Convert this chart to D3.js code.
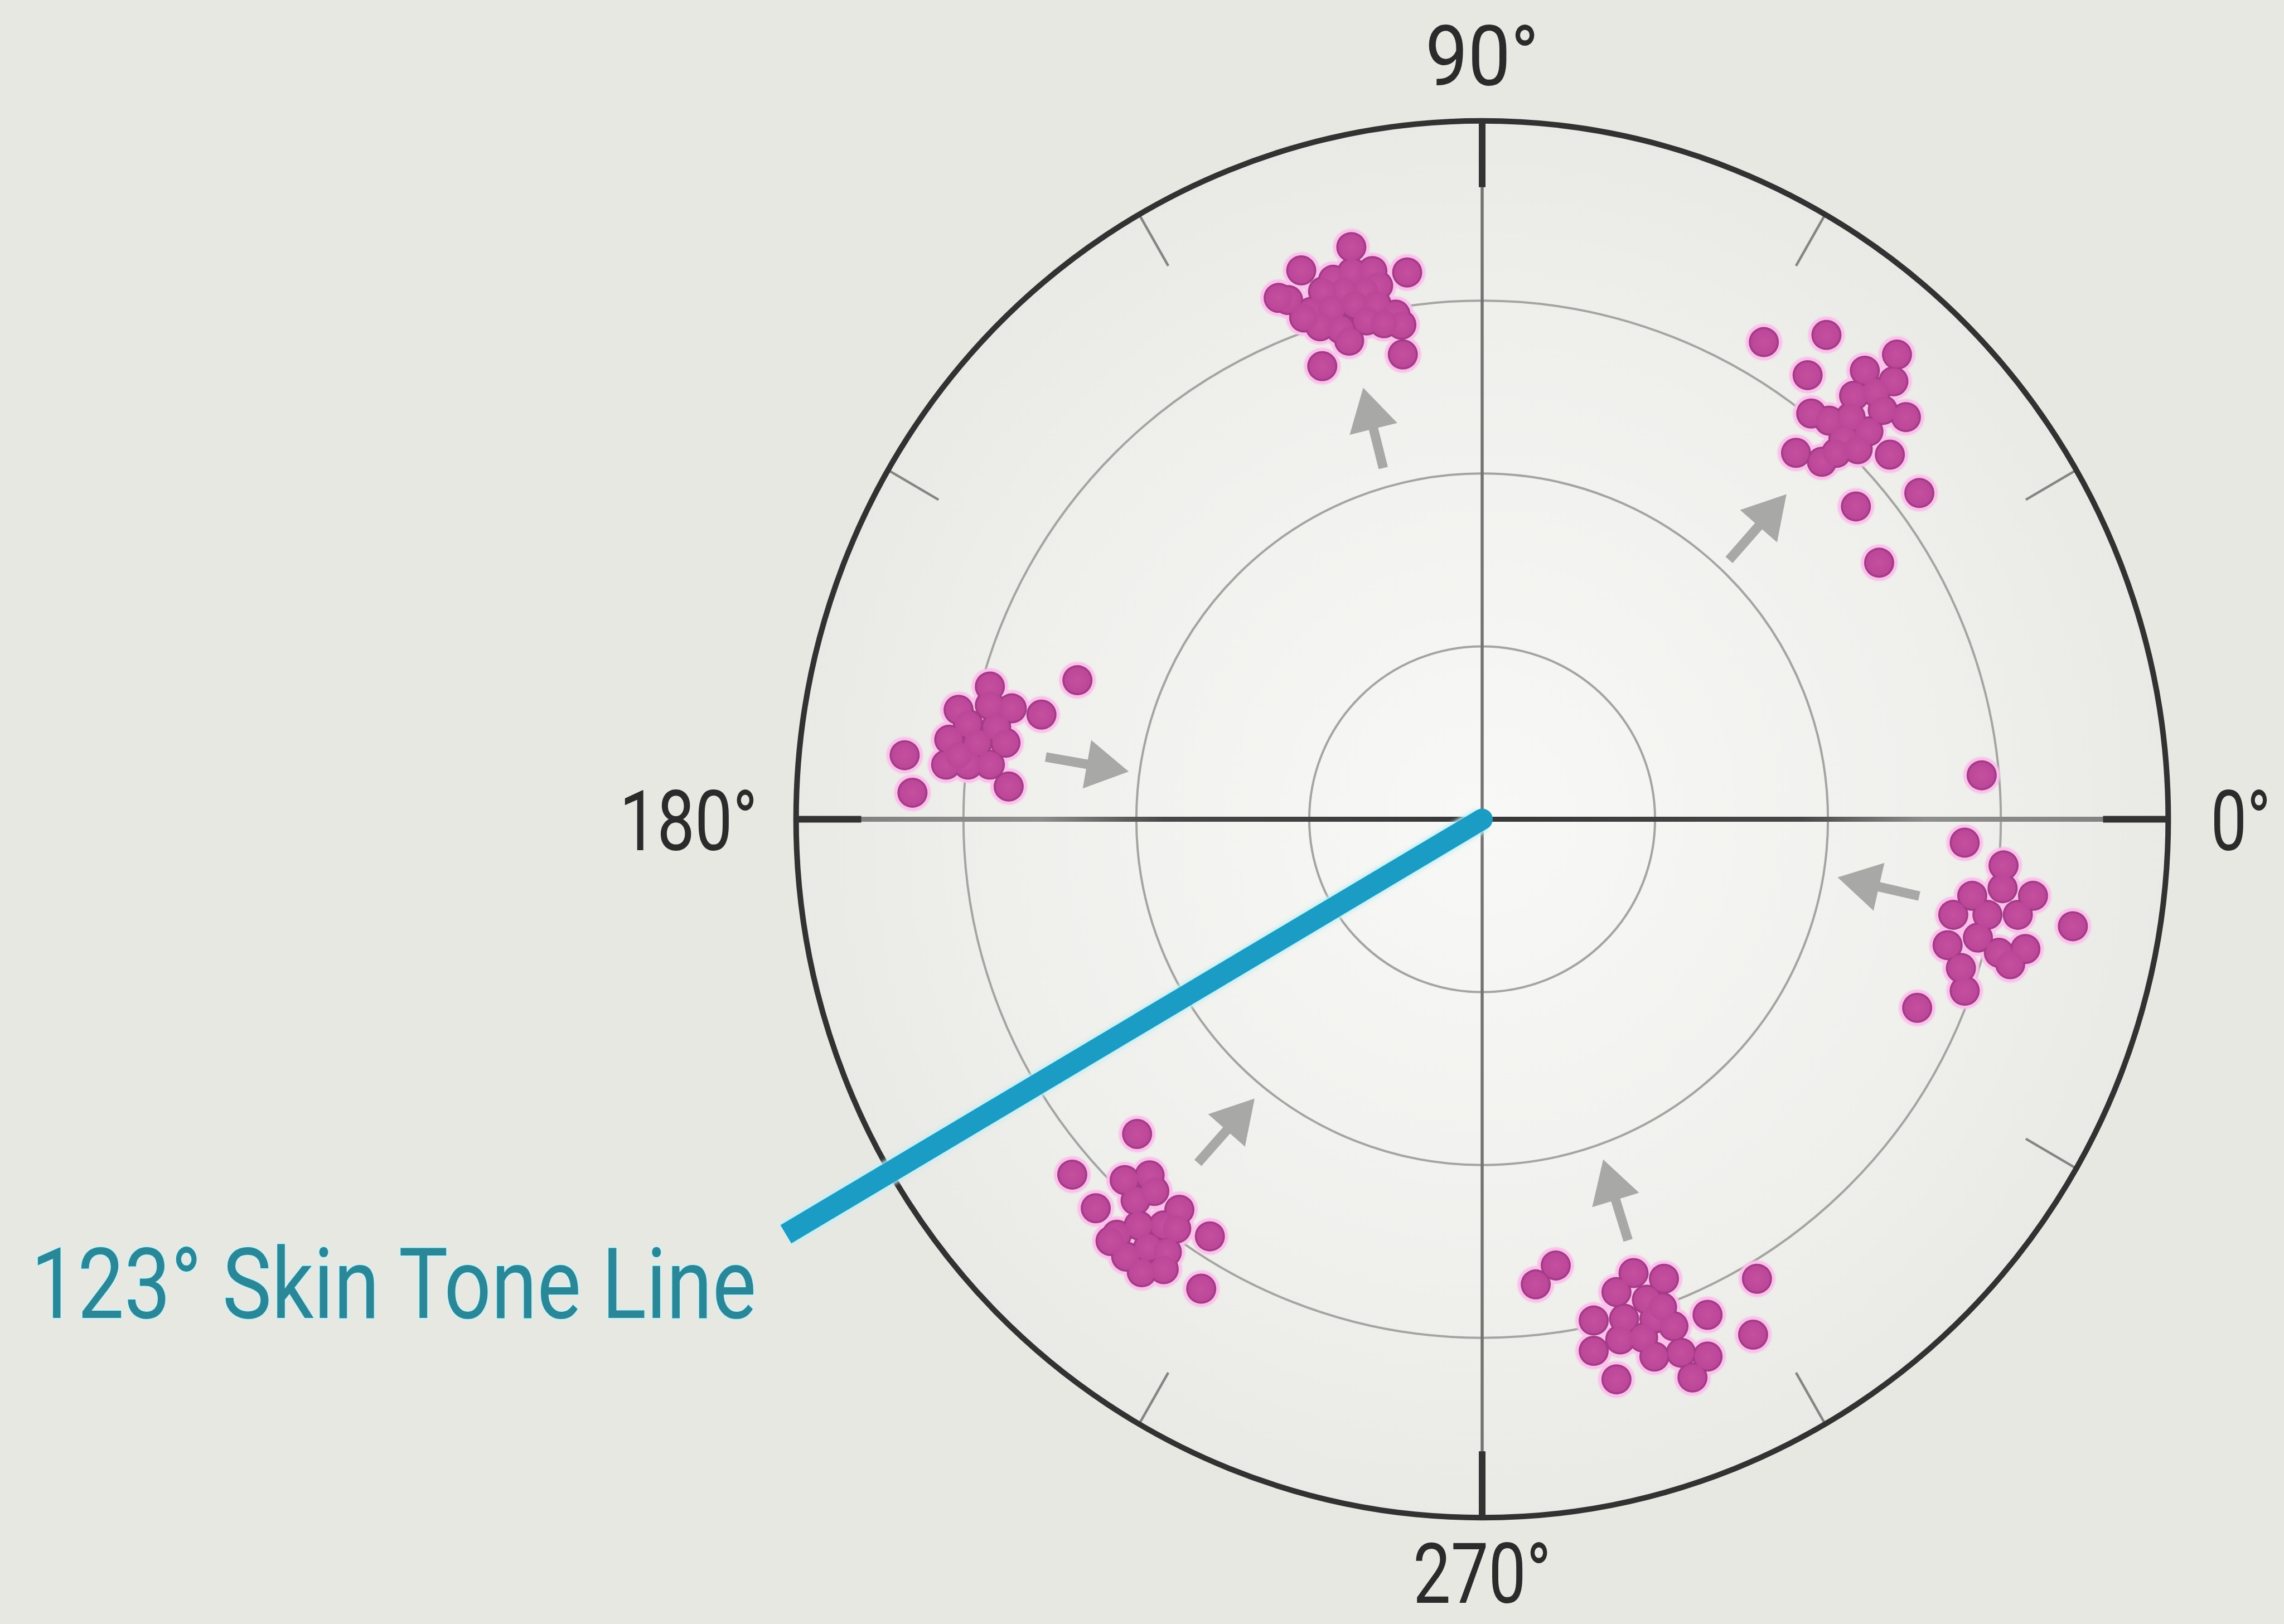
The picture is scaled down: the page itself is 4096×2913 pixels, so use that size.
<!DOCTYPE html>
<html>
<head>
<meta charset="utf-8">
<title>Vectorscope</title>
<script src="https://cdn.jsdelivr.net/npm/d3@7"></script>
<style>
  html, body { margin: 0; padding: 0; background: #e8e8e3; }
  svg { display: block; }
</style>
</head>
<body>
<script>
var W = 4096, H = 2913;
var k = 0.785; // reference -> window

// ---- data ----
var ringLevels = [0.25, 0.5, 0.75];
var majorAngles = [0, 90, 180, 270];
var minorAngles = [30, 60, 120, 150, 210, 240, 300, 330];
var angleLabels = ["0°", "90°", "180°", "270°"];

// chroma samples (u, v), one list per patch
var clusterMagentaTop = [[-0.2154,0.7802],[-0.1882,0.7908],[-0.1587,0.7928],[-0.1504,0.7718],[-0.1692,0.7634],[-0.2008,0.7634],[-0.2301,0.7634],[-0.2805,0.7508],[-0.2469,0.7340],[-0.2175,0.7382],[-0.1839,0.7446],[-0.1525,0.7446],[-0.1252,0.7299],[-0.1168,0.7152],[-0.2343,0.7130],[-0.2049,0.7089],[-0.1923,0.6921],[-0.1672,0.7214],[-0.1420,0.7173],[-0.2574,0.7256],[-0.2616,0.7938],[-0.1892,0.8275],[-0.1084,0.7908],[-0.2942,0.7540],[-0.1147,0.6722],[-0.2312,0.6553]];
var clusterUpperRight = [[0.5998,0.6720],[0.5533,0.6487],[0.5946,0.6333],[0.5378,0.6126],[0.5688,0.6178],[0.6127,0.5816],[0.5792,0.5919],[0.4758,0.5868],[0.5016,0.5765],[0.5327,0.5816],[0.5585,0.5609],[0.5223,0.5506],[0.4913,0.5170],[0.5120,0.5299],[0.5430,0.5351],[0.5895,0.5273],[0.4073,0.6901],[0.4978,0.7004],[0.4706,0.6423],[0.4538,0.5299],[0.5404,0.4524],[0.6321,0.4718],[0.5740,0.3710]];
var clusterLeft = [[-0.5852,0.2011],[-0.8350,0.0926],[-0.8237,0.0384],[-0.7118,0.1920],[-0.7570,0.1582],[-0.6801,0.1604],[-0.6372,0.1514],[-0.7118,0.1649],[-0.7434,0.1378],[-0.7027,0.1333],[-0.7705,0.1152],[-0.7299,0.1107],[-0.6892,0.1107],[-0.7751,0.0790],[-0.7434,0.0790],[-0.7118,0.0790],[-0.6846,0.0474],[-0.7570,0.0926]];
var clusterRight = [[0.7223,0.0636],[0.6977,-0.0339],[0.8541,-0.1547],[0.6290,-0.2727],[0.7539,-0.0668],[0.7086,-0.1107],[0.7965,-0.1107],[0.7525,-0.0997],[0.6812,-0.1382],[0.7306,-0.1382],[0.7745,-0.1382],[0.6730,-0.1821],[0.7168,-0.1711],[0.7855,-0.1876],[0.7471,-0.1931],[0.6922,-0.2151],[0.6977,-0.2480],[0.7635,-0.2096]];
var clusterLowerLeft = [[-0.4989,-0.4551],[-0.5927,-0.5139],[-0.5587,-0.5625],[-0.3937,-0.6032],[-0.4062,-0.6789],[-0.5169,-0.5218],[-0.4808,-0.5150],[-0.5011,-0.5511],[-0.4740,-0.5376],[-0.4378,-0.5647],[-0.5282,-0.6009],[-0.4966,-0.5873],[-0.4604,-0.5873],[-0.4423,-0.5918],[-0.5147,-0.6325],[-0.4830,-0.6190],[-0.4559,-0.6258],[-0.4604,-0.6506],[-0.4921,-0.6551],[-0.5373,-0.6099]];
var clusterLowerRight = [[0.1064,-0.6453],[0.0775,-0.6727],[0.3973,-0.6645],[0.3918,-0.7454],[0.1942,-0.8100],[0.3259,-0.7167],[0.2189,-0.6563],[0.2629,-0.6645],[0.1942,-0.6837],[0.2382,-0.6947],[0.1613,-0.7249],[0.2052,-0.7222],[0.2491,-0.7222],[0.2766,-0.7331],[0.1613,-0.7688],[0.1997,-0.7523],[0.2327,-0.7496],[0.2601,-0.7057],[0.2491,-0.7770],[0.2875,-0.7715],[0.3259,-0.7770],[0.3041,-0.8072]];

// shift arrows: tail -> tip
var arrows = [
  { from: [-0.143, 0.508], to: [-0.172, 0.624] },
  { from: [0.357, 0.375], to: [0.440, 0.470] },
  { from: [-0.631, 0.090], to: [-0.511, 0.069] },
  { from: [0.632, -0.111], to: [0.514, -0.084] },
  { from: [-0.411, -0.497], to: [-0.329, -0.404] },
  { from: [0.211, -0.609], to: [0.175, -0.492] }
];

var skinLine = { angle: 210.8, length: 1.172, label: "123° Skin Tone Line" };

// ---- layout ----
var cx = 3386 * k, cy = 1872 * k, R = 1580 * k;
var frameRx = 0.992, frameRy = 1.010; // outer bezel is a touch taller than wide

var x = d3.scaleLinear().domain([-1, 1]).range([cx - R, cx + R]);
var y = d3.scaleLinear().domain([-1, 1]).range([cy + R, cy - R]);
var rScale = d3.scaleLinear().domain([0, 1]).range([0, R]);

function polar(deg, r) {
  var a = deg * Math.PI / 180;
  return [x(r * Math.cos(a)), y(r * Math.sin(a))];
}
function framePt(deg, f) {
  var a = deg * Math.PI / 180;
  return [x(f * frameRx * Math.cos(a)), y(f * frameRy * Math.sin(a))];
}

var svg = d3.select("body").append("svg")
  .attr("width", W)
  .attr("height", H);

var defs = svg.append("defs");

var bg = defs.append("radialGradient").attr("id", "bgGrad");
bg.append("stop").attr("offset", "0%").attr("stop-color", "#f8f8f6");
bg.append("stop").attr("offset", "70%").attr("stop-color", "#efefec");
bg.append("stop").attr("offset", "100%").attr("stop-color", "#e9e9e5");

var dotGrad = defs.append("radialGradient").attr("id", "dotGrad");
dotGrad.append("stop").attr("offset", "0%").attr("stop-color", "#c6509f");
dotGrad.append("stop").attr("offset", "100%").attr("stop-color", "#bb4597");

var hAxisGrad = defs.append("linearGradient")
  .attr("id", "hAxisGrad")
  .attr("gradientUnits", "userSpaceOnUse")
  .attr("x1", x(-1)).attr("x2", x(1)).attr("y1", 0).attr("y2", 0);
[[0, "#7e7e7c"], [0.18, "#8e8e8c"], [0.27, "#474747"], [0.5, "#383838"], [0.73, "#474747"], [0.82, "#8e8e8c"], [1, "#7e7e7c"]]
  .forEach(function (s) {
    hAxisGrad.append("stop").attr("offset", s[0]).attr("stop-color", s[1]);
  });

var soft = defs.append("filter").attr("id", "soft")
  .attr("x", "-20%").attr("y", "-20%").attr("width", "140%").attr("height", "140%");
soft.append("feGaussianBlur").attr("stdDeviation", 1.2);

var glow = defs.append("filter").attr("id", "glow")
  .attr("x", "-20%").attr("y", "-20%").attr("width", "140%").attr("height", "140%");
glow.append("feGaussianBlur").attr("stdDeviation", 3);

// background inside scope
svg.append("rect").attr("width", W).attr("height", H).attr("fill", "#e8e8e3");
svg.append("ellipse")
  .attr("cx", cx).attr("cy", cy)
  .attr("rx", rScale(frameRx)).attr("ry", rScale(frameRy))
  .attr("fill", "url(#bgGrad)");

// rings
svg.append("g").selectAll("circle")
  .data(ringLevels)
  .enter()
  .append("circle")
  .attr("cx", cx).attr("cy", cy)
  .attr("r", function (d) { return rScale(d); })
  .attr("fill", "none")
  .attr("stroke", "#a4a4a2")
  .attr("stroke-width", 4);

// axes
var pl = framePt(180, 0.91), pr = framePt(0, 0.91);
svg.append("line")
  .attr("x1", pl[0]).attr("y1", pl[1])
  .attr("x2", pr[0]).attr("y2", pr[1])
  .attr("stroke", "url(#hAxisGrad)")
  .attr("stroke-width", 9);
var pt = framePt(90, 0.91), pb = framePt(270, 0.91);
svg.append("line")
  .attr("x1", pt[0]).attr("y1", pt[1])
  .attr("x2", pb[0]).attr("y2", pb[1])
  .attr("stroke", "#737371")
  .attr("stroke-width", 5.5);

// minor ticks
svg.append("g").selectAll("line")
  .data(minorAngles)
  .enter()
  .append("line")
  .attr("x1", function (d) { return framePt(d, 0.915)[0]; })
  .attr("y1", function (d) { return framePt(d, 0.915)[1]; })
  .attr("x2", function (d) { return framePt(d, 1)[0]; })
  .attr("y2", function (d) { return framePt(d, 1)[1]; })
  .attr("stroke", "#858583")
  .attr("stroke-width", 4.5);

// major ticks
svg.append("g").selectAll("line")
  .data(majorAngles)
  .enter()
  .append("line")
  .attr("x1", function (d) { return framePt(d, 0.905)[0]; })
  .attr("y1", function (d) { return framePt(d, 0.905)[1]; })
  .attr("x2", function (d) { return framePt(d, 1)[0]; })
  .attr("y2", function (d) { return framePt(d, 1)[1]; })
  .attr("stroke", "#333333")
  .attr("stroke-width", 12);

// outer bezel
svg.append("ellipse")
  .attr("cx", cx).attr("cy", cy)
  .attr("rx", rScale(frameRx)).attr("ry", rScale(frameRy))
  .attr("fill", "none")
  .attr("stroke", "#323232")
  .attr("stroke-width", 10);

// condensed text: squeeze horizontally to a target width
function squeeze(sel, px, py, anchor, w) {
  sel.attr("x", 0).attr("y", 0).attr("text-anchor", "start");
  var natural = sel.node().getComputedTextLength();
  var s = w / natural;
  var left = anchor === "start" ? px : anchor === "end" ? px - w : px - w / 2;
  sel.attr("transform", "translate(" + left + "," + py + ") scale(" + s + ",1)");
}

var fr = framePt(0, 1), ft = framePt(90, 1), fl = framePt(180, 1), fb = framePt(270, 1);
var labelPos = [
  { p: [fr[0] + 76, cy + 55], anchor: "start", w: 108 },
  { p: [cx, ft[1] - 64], anchor: "middle", w: 204 },
  { p: [fl[0] - 69, cy + 55], anchor: "end", w: 248 },
  { p: [cx, fb[1] + 153], anchor: "middle", w: 248 }
];
var labelG = svg.append("g");
angleLabels.forEach(function (d, i) {
  var t = labelG.append("text")
    .style("font-family", "'Liberation Sans Narrow', 'Roboto', 'Liberation Sans', sans-serif")
    .style("font-size", "150px")
    .style("fill", "#2b2b2b")
    .text(d);
  squeeze(t, labelPos[i].p[0], labelPos[i].p[1], labelPos[i].anchor, labelPos[i].w);
});

// arrows
var arrowG = svg.append("g").attr("fill", "#a8a8a6").attr("stroke", "none");
arrows.forEach(function (a) {
  var x0 = x(a.from[0]), y0 = y(a.from[1]);
  var x1 = x(a.to[0]), y1 = y(a.to[1]);
  var dx = x1 - x0, dy = y1 - y0, L = Math.sqrt(dx * dx + dy * dy);
  var ux = dx / L, uy = dy / L, nx = -uy, ny = ux;
  var headL = 76, headW = 44, shaftW = 8.5;
  var bx = x1 - ux * headL, by = y1 - uy * headL;
  var path = d3.path();
  path.moveTo(x0 + nx * shaftW, y0 + ny * shaftW);
  path.lineTo(bx + nx * shaftW, by + ny * shaftW);
  path.lineTo(bx + nx * headW, by + ny * headW);
  path.lineTo(x1, y1);
  path.lineTo(bx - nx * headW, by - ny * headW);
  path.lineTo(bx - nx * shaftW, by - ny * shaftW);
  path.lineTo(x0 - nx * shaftW, y0 - ny * shaftW);
  path.closePath();
  arrowG.append("path").attr("d", path.toString());
});

// skin tone line
var sEnd = polar(skinLine.angle, skinLine.length);
svg.append("line")
  .attr("x1", cx).attr("y1", cy)
  .attr("x2", sEnd[0]).attr("y2", sEnd[1])
  .attr("stroke", "#bdf0f7")
  .attr("stroke-width", 45)
  .attr("filter", "url(#glow)");
svg.append("line")
  .attr("x1", cx).attr("y1", cy)
  .attr("x2", sEnd[0]).attr("y2", sEnd[1])
  .attr("stroke", "#1b9cc4")
  .attr("stroke-width", 38);
svg.append("circle")
  .attr("cx", cx).attr("cy", cy).attr("r", 19)
  .attr("fill", "#1b9cc4");

var skinText = svg.append("text")
  .style("font-family", "'Liberation Sans Narrow', 'Roboto', 'Liberation Sans', sans-serif")
  .style("font-size", "176px")
  .style("fill", "#2a8797")
  .style("stroke", "#c8f2f8")
  .style("stroke-width", 5)
  .style("paint-order", "stroke")
  .text(skinLine.label);
squeeze(skinText, sEnd[0] - 53, sEnd[1] + 150, "end", 1301);

// sample dots: pink halo, dark rim, then a flat fill so overlaps merge into blobs
var clusters = [clusterMagentaTop, clusterUpperRight, clusterLeft, clusterRight, clusterLowerLeft, clusterLowerRight];
var allDots = d3.merge(clusters);
var dotR = 27;

function dotLayer(r, fill, filter) {
  var g = svg.append("g");
  if (filter) g.attr("filter", filter);
  g.selectAll("circle")
    .data(allDots)
    .enter()
    .append("circle")
    .attr("cx", function (d) { return x(d[0]); })
    .attr("cy", function (d) { return y(d[1]); })
    .attr("r", r)
    .attr("fill", fill);
}
dotLayer(dotR + 6, "#fbc0eb", "url(#soft)");
dotLayer(dotR, "#a43b87");
dotLayer(dotR - 3.5, "url(#dotGrad)");
</script>
</body>
</html>
